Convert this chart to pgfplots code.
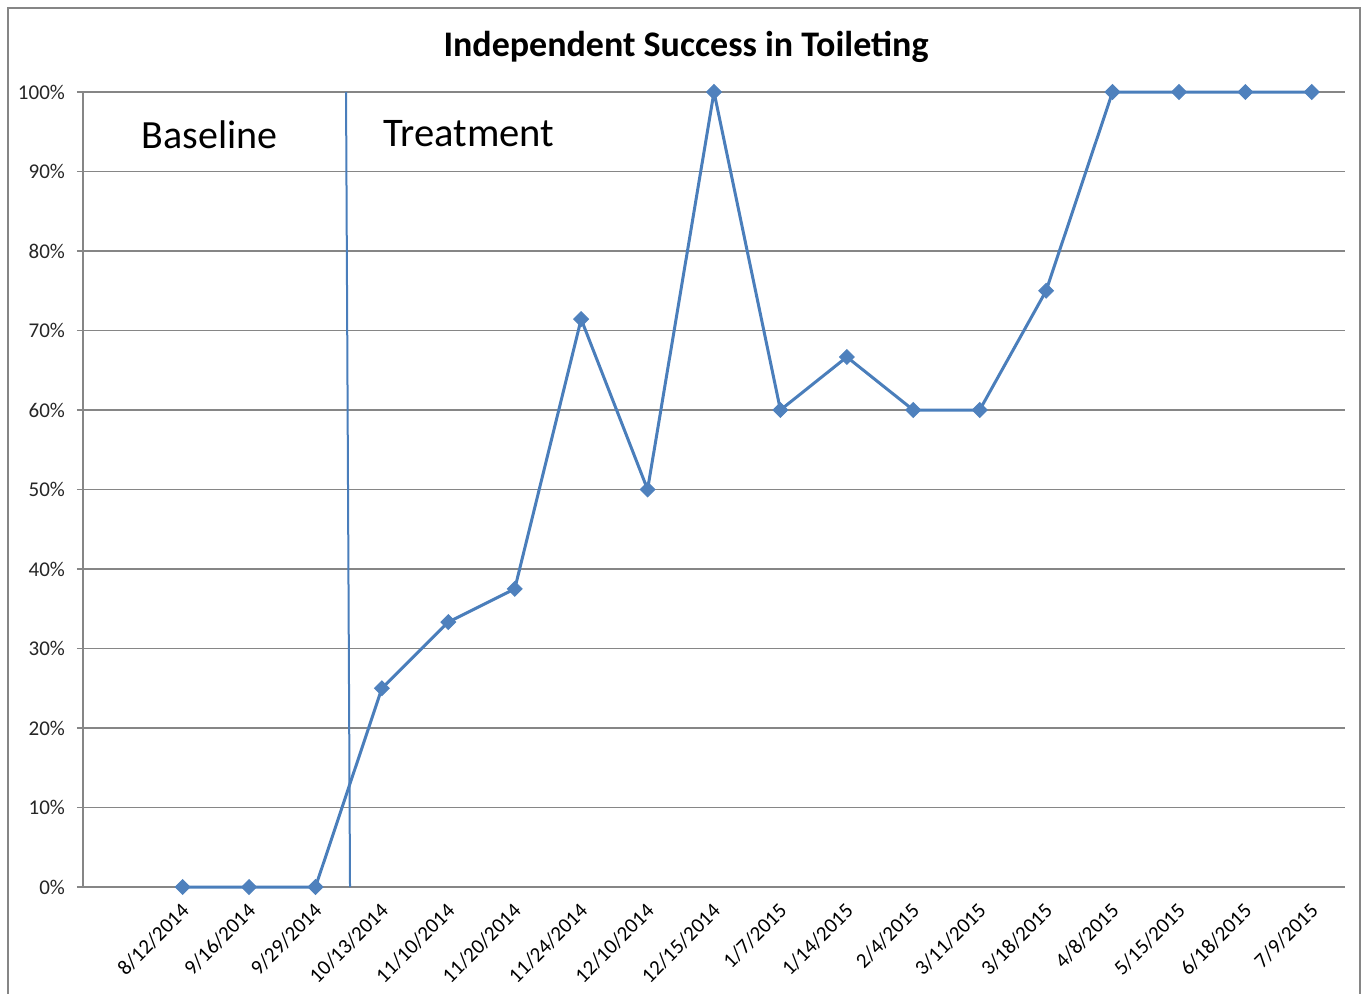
\documentclass[border=0pt]{standalone}
\usepackage{fontspec}
\setmainfont{Carlito}
\usepackage{pgfplots}
\pgfplotsset{compat=1.18}
\definecolor{serieblue}{HTML}{4A7EBB}
\definecolor{markblue}{HTML}{4F81BD}
\definecolor{gridgray}{HTML}{868686}

\begin{document}
\begin{tikzpicture}[x=1pt,y=1pt]
\useasboundingbox (0,0) rectangle (684.5,496.5);
% chart frame
\draw[gridgray, line width=0.8pt] (4,-10) rectangle (680,492.5);
\begin{axis}[
  at={(41.5pt,53pt)}, anchor=south west,
  scale only axis, width=631pt, height=397.5pt,
  xmin=-0.5, xmax=18.5, ymin=0, ymax=100,
  axis x line*=bottom, axis y line*=left,
  axis line style={gridgray, line width=0.8pt},
  tick align=outside,
  tick style={gridgray, line width=0.8pt},
  major tick length=3pt, minor tick length=3pt,
  xtick={1,...,18},
  x tick style={draw=none},
  minor xtick={-0.5,0.5,...,18.5},
  xticklabels={8/12/2014,9/16/2014,9/29/2014,10/13/2014,11/10/2014,11/20/2014,11/24/2014,12/10/2014,12/15/2014,1/7/2015,1/14/2015,2/4/2015,3/11/2015,3/18/2015,4/8/2015,5/15/2015,6/18/2015,7/9/2015},
  xticklabel style={rotate=45, anchor=north east, inner sep=1pt, font=\fontsize{10.5}{12}\selectfont, yshift=-1pt, xshift=-3pt},
  ytick={0,10,...,100},
  yticklabels={0\%,10\%,20\%,30\%,40\%,50\%,60\%,70\%,80\%,90\%,100\%},
  yticklabel style={font=\fontsize{10.5}{12}\selectfont, text=black!85, xshift=-2.5pt},
  ymajorgrids,
  grid style={gridgray, line width=0.75pt},
  clip=false,
]
\addplot[serieblue, line width=1.5pt, mark=square*, mark size=2.6pt,
  mark options={rotate=45, fill=markblue, draw=markblue, line width=0.5pt}]
  coordinates {
  (1,0) (2,0) (3,0) (4,25) (5,33.33) (6,37.5) (7,71.43) (8,50) (9,100)
  (10,60) (11,66.67) (12,60) (13,60) (14,75) (15,100) (16,100) (17,100) (18,100)
  };
% phase change line
\draw[serieblue, line width=1pt] (axis cs:3.46,100) -- (axis cs:3.52,0);
\node[font=\fontsize{20}{24}\selectfont] at (axis cs:1.41,94.6) {Baseline};
\node[font=\fontsize{20.3}{24}\selectfont] at (axis cs:5.31,94.8) {Treatment};
\end{axis}
\node[font=\bfseries\fontsize{18}{21}\selectfont] at (343,473) {Independent Success in Toileting};
\end{tikzpicture}
\end{document}
